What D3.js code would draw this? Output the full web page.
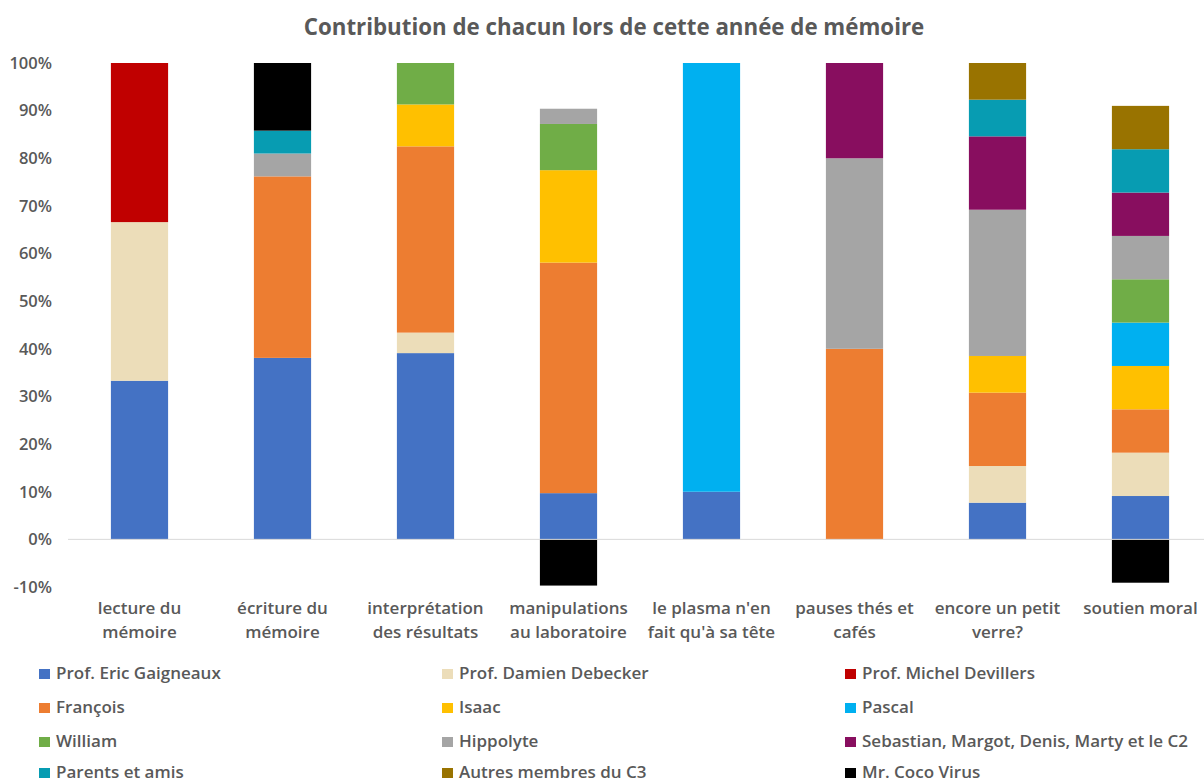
<!DOCTYPE html>
<html>
<head>
<meta charset="utf-8">
<script src="https://cdn.jsdelivr.net/npm/d3@7"></script>
<style>
  html, body { margin: 0; padding: 0; background: #fff; }
  svg { display: block; font-family: "Open Sans", "Noto Sans", sans-serif; }
</style>
</head>
<body>
<svg id="chart" width="1204" height="783"></svg>
<script>
// Activities (x categories), with their two-line axis labels
const categories = [
  "lecture du mémoire", "écriture du mémoire", "interprétation des résultats",
  "manipulations au laboratoire", "le plasma n'en fait qu'à sa tête",
  "pauses thés et cafés", "encore un petit verre?", "soutien moral"
];
const categoryLines = [
  ["lecture du", "mémoire"], ["écriture du", "mémoire"], ["interprétation", "des résultats"],
  ["manipulations", "au laboratoire"], ["le plasma n'en", "fait qu'à sa tête"],
  ["pauses thés et", "cafés"], ["encore un petit", "verre?"], ["soutien moral"]
];

// Contributors, in stacking order (bottom to top)
const seriesNames = [
  "Prof. Eric Gaigneaux", "Prof. Damien Debecker", "Prof. Michel Devillers",
  "François", "Isaac", "Pascal",
  "William", "Hippolyte", "Sebastian, Margot, Denis, Marty et le C2",
  "Parents et amis", "Autres membres du C3", "Mr. Coco Virus"
];
const seriesColors = [
  "#4472C4", "#ECDDB9", "#C00000",
  "#ED7D31", "#FFC000", "#00B0F0",
  "#70AD47", "#A5A5A5", "#880E5F",
  "#079CB2", "#997300", "#000000"
];

// Share (%) of each contributor per activity
const gaigneaux = [33.3, 38.1, 39.1, 9.7, 10, 0, 7.7, 9.1];
const debecker  = [33.3, 0, 4.3, 0, 0, 0, 7.7, 9.1];
const devillers = [33.4, 0, 0, 0, 0, 0, 0, 0];
const francois  = [0, 38.1, 39.1, 48.4, 0, 40, 15.4, 9.1];
const isaac     = [0, 0, 8.8, 19.4, 0, 0, 7.7, 9.1];
const pascal    = [0, 0, 0, 0, 90, 0, 0, 9.1];
const william   = [0, 0, 8.7, 9.7, 0, 0, 0, 9.1];
const hippolyte = [0, 4.8, 0, 3.2, 0, 40, 30.7, 9.1];
const sebastian = [0, 0, 0, 0, 0, 20, 15.4, 9.1];
const parents   = [0, 4.8, 0, 0, 0, 0, 7.7, 9.1];
const autres    = [0, 0, 0, 0, 0, 0, 7.7, 9.1];
const cocoVirus = [0, 14.2, 0, -9.7, 0, 0, 0, -9.1];

const seriesValues = [gaigneaux, debecker, devillers, francois, isaac, pascal,
                      william, hippolyte, sebastian, parents, autres, cocoVirus];

const yTicks = [-10, 0, 10, 20, 30, 40, 50, 60, 70, 80, 90, 100];

const svg = d3.select("#chart");
const textColor = "#595959";

// Rows for the stack layout
const rows = categories.map((c, i) => {
  const r = { category: c };
  seriesNames.forEach((s, k) => { r[s] = seriesValues[k][i]; });
  return r;
});

const stacked = d3.stack()
  .keys(seriesNames)
  .offset(d3.stackOffsetDiverging)(rows);

const x = d3.scaleBand()
  .domain(categories)
  .range([68, 1212])
  .paddingInner(0.6)
  .paddingOuter(0.3);

const y = d3.scaleLinear().domain([-10, 100]).range([587, 63]);

// Title
svg.append("text")
  .attr("x", 614).attr("y", 35)
  .attr("text-anchor", "middle")
  .attr("font-size", 22.3).attr("font-weight", 700)
  .attr("fill", textColor)
  .text("Contribution de chacun lors de cette année de mémoire");

// Y axis labels
const yAxis = svg.append("g")
  .attr("transform", "translate(58,0)")
  .call(d3.axisLeft(y).tickValues(yTicks).tickSize(0).tickPadding(6).tickFormat(d => d + "%"));
yAxis.select(".domain").remove();
yAxis.selectAll("text")
  .attr("font-family", "'Open Sans', sans-serif")
  .attr("font-size", 16.5).attr("font-weight", 600)
  .attr("fill", textColor);

// Bars
svg.append("g").selectAll("g")
  .data(stacked)
  .join("g")
  .attr("fill", (d, i) => seriesColors[i])
  .selectAll("rect")
  .data(d => d)
  .join("rect")
  .attr("x", d => x(d.data.category))
  .attr("width", x.bandwidth())
  .attr("y", d => y(Math.max(d[0], d[1])))
  .attr("height", d => Math.abs(y(d[0]) - y(d[1])));

// Zero line
svg.append("line")
  .attr("x1", 68).attr("x2", 1212)
  .attr("y1", y(0)).attr("y2", y(0))
  .attr("stroke", "#D9D9D9").attr("stroke-width", 1);

// Category labels
const xLab = svg.append("g");
categories.forEach((c, i) => {
  const t = xLab.append("text")
    .attr("x", x(c) + x.bandwidth() / 2)
    .attr("y", 614)
    .attr("text-anchor", "middle")
    .attr("font-size", 17).attr("font-weight", 600)
    .attr("fill", textColor);
  categoryLines[i].forEach((line, j) => {
    t.append("tspan").attr("x", x(c) + x.bandwidth() / 2).attr("dy", j === 0 ? 0 : 24).text(line);
  });
});

// Legend: 3 columns, 4 rows
const legendCols = [39, 442, 845];
const legendRows = [673, 707, 741, 772];
const legend = svg.append("g");
seriesNames.forEach((s, i) => {
  const cx = legendCols[i % 3], cy = legendRows[Math.floor(i / 3)];
  legend.append("rect")
    .attr("x", cx).attr("y", cy - 4)
    .attr("width", 11).attr("height", 10)
    .attr("fill", seriesColors[i]);
  legend.append("text")
    .attr("x", cx + 17).attr("y", cy + 6)
    .attr("font-size", 17).attr("font-weight", 600)
    .attr("fill", textColor)
    .text(s);
});
</script>
</body>
</html>
